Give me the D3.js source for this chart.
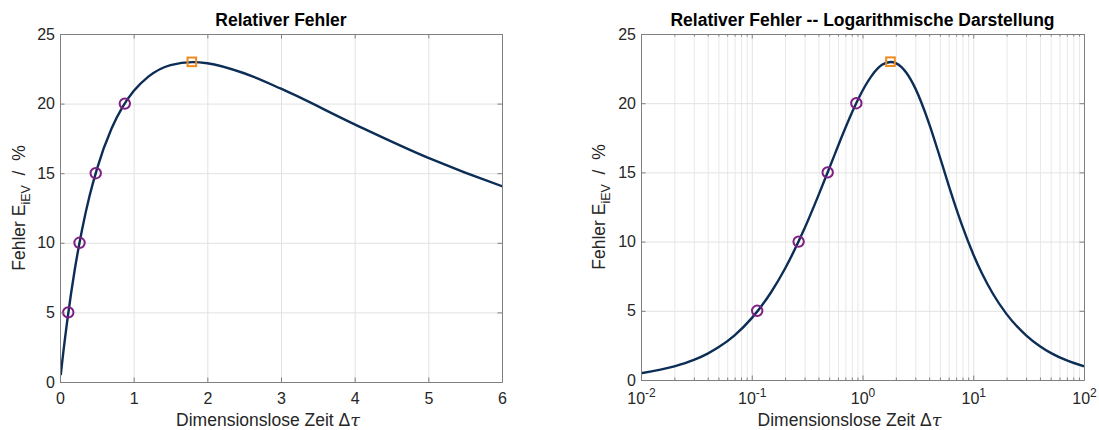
<!DOCTYPE html>
<html>
<head>
<meta charset="utf-8">
<script src="https://cdn.jsdelivr.net/npm/d3@7"></script>
<style>
  body { margin: 0; background: #fff; }
  svg { display: block; font-family: "Liberation Sans", Arial, Helvetica, sans-serif; }
</style>
</head>
<body>
<svg id="fig" width="1099" height="430"></svg>
<script>
// Werte
const tau = [0.01, 0.02, 0.03, 0.04, 0.05, 0.07, 0.1, 0.15, 0.2, 0.3,
             0.4, 0.5, 0.7, 0.85, 1, 1.2, 1.5, 1.8, 2, 2.5,
             3, 4, 5, 6, 7, 8, 10, 12, 15, 20,
             30, 40, 50, 70, 100];
const fehler = [0.49, 0.98, 1.45, 1.91, 2.36, 3.23, 4.47, 6.36, 8.06, 10.96,
                13.34, 15.28, 18.21, 19.76, 20.90, 21.94, 22.77, 22.98, 22.90, 22.18,
                21.07, 18.51, 16.10, 14.07, 12.42, 11.08, 9.09, 7.69, 6.25, 4.76,
                3.23, 2.44, 1.96, 1.41, 0.99];

const kreisTau = [0.112, 0.265, 0.485, 0.88];
const kreisFehler = [5, 10, 15, 20];
const maxTau = [1.79];
const maxFehler = [23];

const yTicks = [0, 5, 10, 15, 20, 25];
const xTicksLin = [0, 1, 2, 3, 4, 5, 6];
const xTicksLog = [0.01, 0.1, 1, 10, 100];
const xTickExp = ["-2", "-1", "0", "1", "2"];
const xMinorLog = [];
[0.01, 0.1, 1, 10].forEach(d => { for (let k = 2; k <= 9; k++) xMinorLog.push(d * k); });

const linie = "#0c2d55";
const lila = "#7e1f83";
const orange = "#ef8a1f";
const achse = "#808080";
const gitter = "#e2e2e2";
const text = "#262626";

const svg = d3.select("#fig");
const punkte = tau.map((t, i) => [t, fehler[i]]);
const kreise = kreisTau.map((t, i) => [t, kreisFehler[i]]);
const maxPkt = maxTau.map((t, i) => [t, maxFehler[i]]);

function styleAxis(g) {
  g.attr("font-family", null).attr("font-size", null);
  g.selectAll("path.domain").attr("stroke", achse);
  g.selectAll(".tick line").attr("stroke", achse);
  g.selectAll(".tick text").attr("fill", text).style("font-size", "16px");
}

function panel(cfg) {
  const x = cfg.x, y = cfg.y;
  const [xl, xr] = x.range();
  const [yb, yt] = y.range();
  const w = xr - xl, h = yb - yt;
  const g = svg.append("g");

  // Gitter
  if (cfg.minor) {
    g.append("g").attr("transform", `translate(0,${yb})`)
      .call(d3.axisBottom(x).tickValues(cfg.minor).tickSizeInner(-h).tickSizeOuter(0).tickFormat(""))
      .call(a => a.select(".domain").remove())
      .selectAll("line").attr("stroke", "#e8e8e8");
  }
  g.append("g").attr("transform", `translate(0,${yb})`)
    .call(d3.axisBottom(x).tickValues(cfg.xTicks).tickSizeInner(-h).tickSizeOuter(0).tickFormat(""))
    .call(a => a.select(".domain").remove())
    .selectAll("line").attr("stroke", gitter);
  g.append("g").attr("transform", `translate(${xl},0)`)
    .call(d3.axisLeft(y).tickValues(yTicks).tickSizeInner(-w).tickSizeOuter(0).tickFormat(""))
    .call(a => a.select(".domain").remove())
    .selectAll("line").attr("stroke", gitter);

  // Kurve
  const clipId = "clip" + cfg.id;
  svg.append("clipPath").attr("id", clipId)
    .append("rect").attr("x", xl).attr("y", yt).attr("width", w).attr("height", h);
  const line = d3.line().x(d => x(d[0])).y(d => y(d[1])).curve(d3.curveMonotoneX);
  g.append("path").datum(punkte)
    .attr("clip-path", `url(#${clipId})`)
    .attr("d", line).attr("fill", "none")
    .attr("stroke", linie).attr("stroke-width", 2.4);

  g.selectAll(".kreis").data(kreise).join("circle")
    .attr("cx", d => x(d[0])).attr("cy", d => y(d[1])).attr("r", 5.2)
    .attr("fill", "none").attr("stroke", lila).attr("stroke-width", 2);
  g.selectAll(".max").data(maxPkt).join("rect")
    .attr("x", d => x(d[0]) - 4.3).attr("y", d => y(d[1]) - 4.3)
    .attr("width", 8.6).attr("height", 8.6)
    .attr("fill", "none").attr("stroke", orange).attr("stroke-width", 2);

  // Achsen (Box, Ticks nach innen)
  const bottom = g.append("g").attr("transform", `translate(0,${yb})`)
    .call(d3.axisBottom(x).tickValues(cfg.xTicks).tickSizeInner(-4.5).tickSizeOuter(0)
      .tickPadding(cfg.xPad).tickFormat(cfg.xFormat || d3.format("d")))
    .call(styleAxis);
  g.append("g").attr("transform", `translate(0,${yt})`)
    .call(d3.axisTop(x).tickValues(cfg.xTicks).tickSizeInner(-4.5).tickSizeOuter(0).tickFormat(""))
    .call(styleAxis);
  if (cfg.minor) {
    g.append("g").attr("transform", `translate(0,${yb})`)
      .call(d3.axisBottom(x).tickValues(cfg.minor).tickSizeInner(-2.5).tickSizeOuter(0).tickFormat(""))
      .call(styleAxis);
    g.append("g").attr("transform", `translate(0,${yt})`)
      .call(d3.axisTop(x).tickValues(cfg.minor).tickSizeInner(-2.5).tickSizeOuter(0).tickFormat(""))
      .call(styleAxis);
  }
  g.append("g").attr("transform", `translate(${xl},0)`)
    .call(d3.axisLeft(y).tickValues(yTicks).tickSizeInner(-4.5).tickSizeOuter(0).tickPadding(5))
    .call(styleAxis);
  g.append("g").attr("transform", `translate(${xr},0)`)
    .call(d3.axisRight(y).tickValues(yTicks).tickSizeInner(-4.5).tickSizeOuter(0).tickFormat(""))
    .call(styleAxis);

  if (cfg.log) {
    bottom.selectAll(".tick text").each(function(d, i) {
      const t = d3.select(this).text("");
      t.append("tspan").text("10");
      t.append("tspan").attr("dy", "-7").style("font-size", "12px").text(xTickExp[i]);
    });
  }

  // Titel und Beschriftungen
  const cx = (xl + xr) / 2;
  g.append("text").attr("x", cx).attr("y", 26).attr("text-anchor", "middle")
    .attr("fill", "#000").style("font-size", "17.5px").style("font-weight", "bold")
    .text(cfg.title);

  const xlab = g.append("text").attr("x", cx - 13).attr("y", 426).attr("text-anchor", "middle")
    .attr("fill", text).style("font-size", "17.5px");
  xlab.append("tspan").text("Dimensionslose Zeit \u0394");
  xlab.append("tspan").style("font-style", "italic").style("font-family", "'DejaVu Serif', serif").text("\u03c4");

  const ylab = g.append("text")
    .attr("transform", `translate(${cfg.yLabX},${(yt + yb) / 2}) rotate(-90)`)
    .attr("text-anchor", "middle").attr("fill", text).style("font-size", "17.5px")
    .style("white-space", "pre");
  ylab.append("tspan").text("Fehler E");
  ylab.append("tspan").attr("dy", "5").style("font-size", "12.5px").text("iEV");
  ylab.append("tspan").attr("dy", "-5").text("  /  %");
}

panel({
  id: "lin",
  x: d3.scaleLinear().domain([0, 6]).range([60, 502]),
  y: d3.scaleLinear().domain([0, 25]).range([382, 34]),
  xTicks: xTicksLin,
  xPad: 11,
  yLabX: 25,
  title: "Relativer Fehler"
});

panel({
  id: "log",
  log: true,
  x: d3.scaleLog().domain([0.01, 100]).range([641, 1084]),
  y: d3.scaleLinear().domain([0, 25]).range([380, 34]),
  xTicks: xTicksLog,
  minor: xMinorLog,
  xPad: 13,
  yLabX: 605,
  title: "Relativer Fehler -- Logarithmische Darstellung"
});
</script>
</body>
</html>
